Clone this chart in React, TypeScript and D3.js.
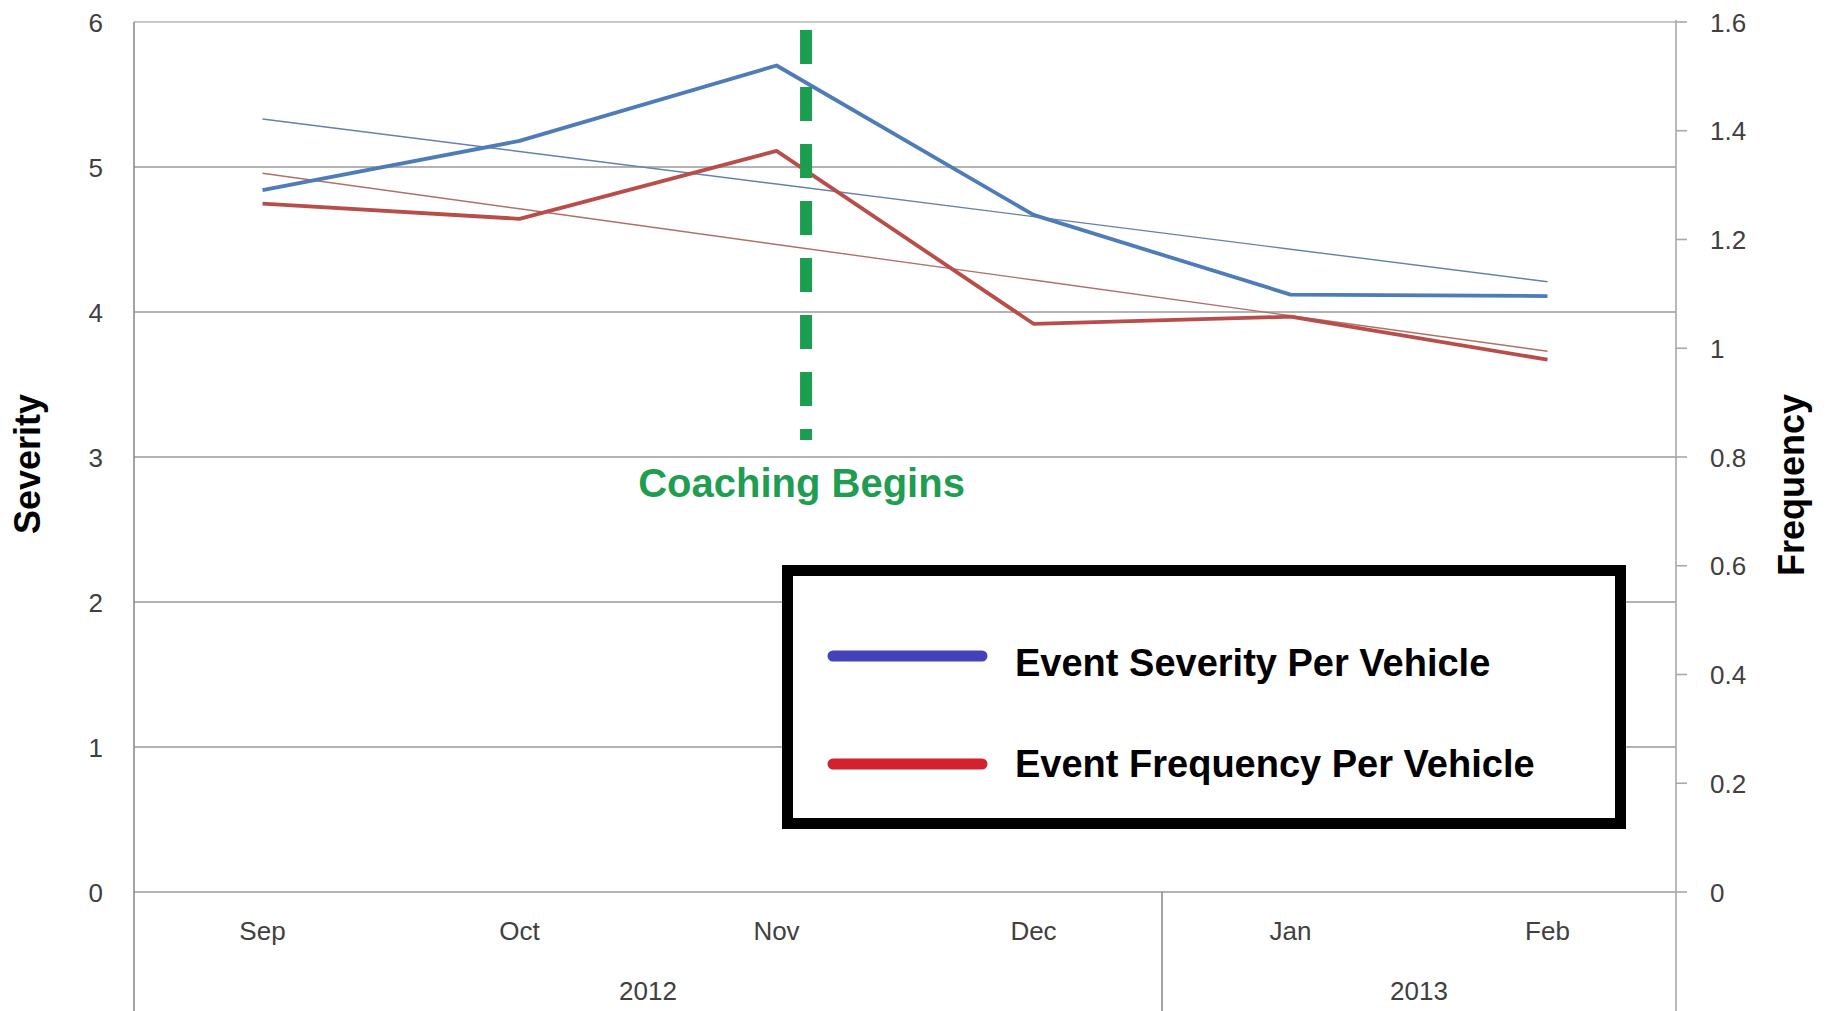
import React, { useEffect, useRef } from 'react';
import * as d3 from 'd3';

// values
const months = ['Sep', 'Oct', 'Nov', 'Dec', 'Jan', 'Feb'];
const yearLabels = ['2012', '2013'];
const yearFirstMonth = ['Sep', 'Jan'];
const yearLastMonth = ['Dec', 'Feb'];
const severity = [4.84, 5.18, 5.7, 4.67, 4.12, 4.11];
const frequency = [1.266, 1.238, 1.363, 1.045, 1.058, 0.979];
const severityTicks = [0, 1, 2, 3, 4, 5, 6];
const frequencyTicks = [0, 0.2, 0.4, 0.6, 0.8, 1, 1.2, 1.4, 1.6];
const seriesNames = ['Event Severity Per Vehicle', 'Event Frequency Per Vehicle'];
const annotation = 'Coaching Begins';

// least squares line through the points, like Excel's linear trendline
function trendline(values: number[]) {
    const n = values.length;
    const mx = (n - 1) / 2;
    const my = d3.mean(values) as number;
    let num = 0, den = 0;
    values.forEach((v, i) => { num += (i - mx) * (v - my); den += (i - mx) ** 2; });
    const slope = num / den;
    return values.map((_, i) => my + slope * (i - mx));
}

function Chart({ width = 1831, height = 1011 }) {
    const ref = useRef<SVGSVGElement>(null);

    useEffect(() => {
        const svg = d3.select(ref.current);
        svg.selectAll('*').remove();

        const left = 134, right = 1676, top = 22, bottom = 892;
        const tickFont = "'Liberation Sans', Arial, sans-serif";

        const x = d3.scaleBand().domain(months).range([left, right]).padding(0);
        const cx = (m: string) => (x(m) as number) + x.bandwidth() / 2;
        const yL = d3.scaleLinear().domain([0, 6]).range([bottom, top]);
        const yR = d3.scaleLinear().domain([0, 1.6]).range([bottom, top]);

        svg.append('rect').attr('width', width).attr('height', height).attr('fill', '#fff');

        // gridlines
        svg.append('g').selectAll('line')
            .data(severityTicks)
            .enter().append('line')
            .attr('x1', left).attr('x2', right)
            .attr('y1', d => yL(d)).attr('y2', d => yL(d))
            .attr('stroke', d => (d === 6 ? '#b5b5b5' : '#9a9a9a'))
            .attr('stroke-width', 1.6);

        // axis lines and year separators
        svg.append('line').attr('x1', left).attr('x2', left).attr('y1', top).attr('y2', height)
            .attr('stroke', '#8c8c8c').attr('stroke-width', 1.6);
        svg.append('line').attr('x1', right).attr('x2', right).attr('y1', top - 2).attr('y2', height)
            .attr('stroke', '#a8a8a8').attr('stroke-width', 1.6);
        svg.append('line').attr('x1', x('Jan') as number).attr('x2', x('Jan') as number)
            .attr('y1', bottom).attr('y2', height)
            .attr('stroke', '#8c8c8c').attr('stroke-width', 1.6);

        // left ticks
        svg.append('g').selectAll('text')
            .data(severityTicks)
            .enter().append('text')
            .attr('x', 103).attr('y', d => yL(d) + 9.5)
            .attr('text-anchor', 'end')
            .attr('font-family', tickFont).attr('font-size', 26).attr('fill', '#404040')
            .text(d => d);

        // right ticks
        const rg = svg.append('g');
        rg.selectAll('line')
            .data(frequencyTicks)
            .enter().append('line')
            .attr('x1', right).attr('x2', right + 11)
            .attr('y1', d => yR(d)).attr('y2', d => yR(d))
            .attr('stroke', '#a8a8a8').attr('stroke-width', 1.6);
        rg.selectAll('text')
            .data(frequencyTicks)
            .enter().append('text')
            .attr('x', 1710).attr('y', d => yR(d) + 9.5)
            .attr('font-family', tickFont).attr('font-size', 26).attr('fill', '#404040')
            .text(d => String(d));

        // month and year labels
        svg.append('g').selectAll('text')
            .data(months)
            .enter().append('text')
            .attr('x', d => cx(d)).attr('y', 940)
            .attr('text-anchor', 'middle')
            .attr('font-family', tickFont).attr('font-size', 26).attr('fill', '#404040')
            .text(d => d);
        svg.append('g').selectAll('text')
            .data(yearLabels)
            .enter().append('text')
            .attr('x', (d, i) => ((x(yearFirstMonth[i]) as number) + (x(yearLastMonth[i]) as number) + x.bandwidth()) / 2)
            .attr('y', 1000)
            .attr('text-anchor', 'middle')
            .attr('font-family', tickFont).attr('font-size', 26).attr('fill', '#404040')
            .text(d => d);

        // axis titles
        svg.append('text')
            .attr('transform', 'translate(40,464) rotate(-90)')
            .attr('text-anchor', 'middle')
            .attr('font-family', tickFont).attr('font-weight', 'bold').attr('font-size', 36)
            .text('Severity');
        svg.append('text')
            .attr('transform', 'translate(1804,485) rotate(-90)')
            .attr('text-anchor', 'middle')
            .attr('font-family', tickFont).attr('font-weight', 'bold').attr('font-size', 36)
            .text('Frequency');

        // trendlines
        const sevTrend = trendline(severity);
        const freqTrend = trendline(frequency);
        const lineL = d3.line<number>().x((_, i) => cx(months[i])).y(d => yL(d));
        const lineR = d3.line<number>().x((_, i) => cx(months[i])).y(d => yR(d));

        svg.append('path').attr('d', lineL(sevTrend))
            .attr('fill', 'none').attr('stroke', '#6681ac').attr('stroke-width', 1.4);
        svg.append('path').attr('d', lineR(freqTrend))
            .attr('fill', 'none').attr('stroke', '#b0706a').attr('stroke-width', 1.4);

        // series
        svg.append('path').attr('d', lineR(frequency))
            .attr('fill', 'none').attr('stroke', '#b84d4a').attr('stroke-width', 3.8)
            .attr('stroke-linejoin', 'round');
        svg.append('path').attr('d', lineL(severity))
            .attr('fill', 'none').attr('stroke', '#4d7cb9').attr('stroke-width', 3.8)
            .attr('stroke-linejoin', 'round');

        // coaching annotation
        const coachX = (x('Nov') as number) + x.bandwidth() * 0.615;
        svg.append('line')
            .attr('x1', coachX).attr('x2', coachX).attr('y1', 30).attr('y2', 440)
            .attr('stroke', '#1b9e4f').attr('stroke-width', 12)
            .attr('stroke-dasharray', '34 23');
        svg.append('text')
            .attr('x', coachX - 4.5).attr('y', 497)
            .attr('text-anchor', 'middle')
            .attr('font-family', tickFont).attr('font-weight', 'bold').attr('font-size', 40)
            .attr('fill', '#1f9d52')
            .text(annotation);

        // legend
        const lg = svg.append('g');
        lg.append('rect')
            .attr('x', 787.5).attr('y', 570.5).attr('width', 833).attr('height', 253)
            .attr('fill', '#fff').attr('stroke', '#000').attr('stroke-width', 11);
        const legendColors = ['#4343b9', '#d2222f'];
        const legendY = [656, 764];
        const textBaseline = [676, 777];
        seriesNames.forEach((name, i) => {
            lg.append('line')
                .attr('x1', 833).attr('x2', 982)
                .attr('y1', legendY[i]).attr('y2', legendY[i])
                .attr('stroke', legendColors[i]).attr('stroke-width', 11)
                .attr('stroke-linecap', 'round');
            lg.append('text')
                .attr('x', 1015).attr('y', textBaseline[i])
                .attr('font-family', tickFont).attr('font-weight', 'bold').attr('font-size', 38)
                .attr('fill', '#000')
                .text(name);
        });
    }, [width, height]);

    return <svg ref={ref} width={width} height={height}
        style={{ position: 'absolute', left: 0, top: 0, display: 'block' }}></svg>;
}

export default function App() {
    return <Chart />;
}
